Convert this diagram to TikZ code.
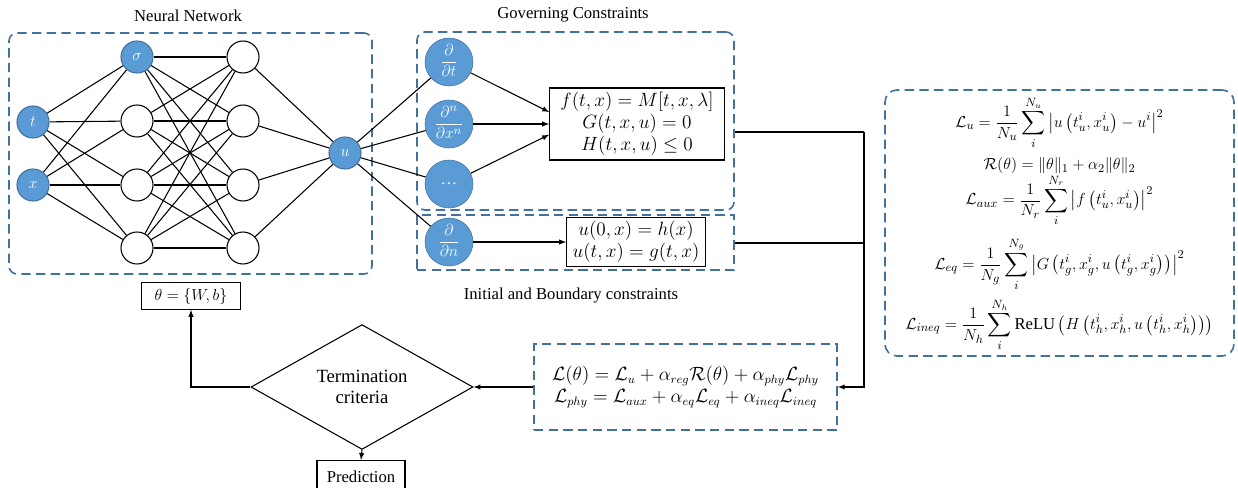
\documentclass[tikz,border=0pt]{standalone}
\usepackage{amsmath,amssymb}
\usepackage{fontspec}
\setmainfont{Liberation Serif}
\usetikzlibrary{shapes.geometric}

\definecolor{nnblue}{HTML}{5B9BD5}
\definecolor{nnedge}{HTML}{41719C}
\definecolor{boxblue}{HTML}{41719C}
\newcommand{\pdop}[2]{\raisebox{-3pt}[0pt][0pt]{$\dfrac{#1}{#2}$}}

\begin{document}
\begin{tikzpicture}[x=0.75pt,y=-0.75pt,
    every node/.style={font=\fontsize{12.5}{15}\selectfont},
    neuron/.style={circle,draw=black,line width=0.8pt,minimum size=24pt,inner sep=0pt},
    active/.style={neuron,fill=nnblue,draw=nnedge,text=white},
    opnode/.style={circle,fill=nnblue,draw=nnedge,text=white,minimum size=36pt,inner sep=0pt},
    eqbox/.style={draw,line width=0.8pt,align=center,inner sep=2pt},
    mathfont/.style={font=\fontsize{14}{16.5}\selectfont},
    dashbox/.style={draw=boxblue,line width=1.2pt,dash pattern=on 7pt off 4pt,inner sep=0pt},
    link/.style={line width=0.8pt},
    flow/.style={line width=0.8pt,-latex}]
    \useasboundingbox (0,0) rectangle (1238,487);

    % Dashed areas
    \node[dashbox,rounded corners=6pt,minimum width=272.25pt,minimum height=180.75pt] (nnarea) at (190.5,153.5) {};
    \node[dashbox,rounded corners=6pt,minimum width=237.75pt,minimum height=133.5pt] (govarea) at (575.5,121) {};
    \node[dashbox,minimum width=237.75pt,minimum height=41.25pt] (icarea) at (575.5,242.5) {};
    \node[dashbox,rounded corners=9pt,minimum width=261.75pt,minimum height=199.5pt] (lossarea) at (1059.5,223) {};

    % Titles
    \node (nntitle) at (188,16) {Neural Network};
    \node (govtitle) at (573,15) {Governing Constraints};
    \node (ictitle) at (571,296) {Initial and Boundary constraints};

    % Neural network
    \node[active] (t) at (33,122) {$t$};
    \node[active] (x) at (33,185) {$x$};
    \node[active] (h1) at (137,57) {$\sigma$};
    \node[neuron] (h2) at (137,121) {};
    \node[neuron] (h3) at (137,185) {};
    \node[neuron] (h4) at (137,248) {};
    \node[neuron] (g1) at (243,57) {};
    \node[neuron] (g2) at (243,121) {};
    \node[neuron] (g3) at (243,185) {};
    \node[neuron] (g4) at (243,248) {};
    \node[active] (u) at (345,153) {$u$};
    \foreach \i in {t,x}
        \foreach \j in {1,...,4}
            \draw[link] (\i) -- (h\j);
    \foreach \i in {1,...,4}
        \foreach \j in {1,...,4}
            \draw[link] (h\i) -- (g\j);
    \foreach \j in {1,...,4}
        \draw[link] (g\j) -- (u);

    % Differential operators
    \node[opnode] (dt) at (449,62) {\pdop{\partial}{\partial t}};
    \node[opnode] (dx) at (449,124) {\pdop{\partial^n}{\partial x^n}};
    \node[opnode] (dots) at (449,184) {\dots};
    \node[opnode] (dn) at (449,242) {\pdop{\partial}{\partial n}};
    \foreach \k in {dt,dx,dots,dn}
        \draw[link] (u) -- (\k);

    % Constraint equations
    \node[eqbox,mathfont,minimum width=131pt,minimum height=54pt] (gov) at (637,124)
        {$f(t,x) = M[t,x,\lambda]$\\ $G(t,x,u) = 0$\\ $H(t,x,u) \le 0$};
    \node[eqbox,mathfont,minimum width=104pt,minimum height=37pt] (init) at (636,242)
        {$u(0,x) = h(x)$\\ $u(t,x) = g(t,x)$};
    \draw[flow] (dt) -- ([yshift=9pt]gov.west);
    \draw[flow] (dx) -- (gov.west);
    \draw[flow] (dots) -- ([yshift=-8pt]gov.west);
    \draw[flow] (dn) -- (init.west);

    % Loss terms
    \node (losseq) at (1059.5,224) {$\begin{gathered}
        \mathcal{L}_u = \dfrac{1}{N_u}\sum\limits_{i}^{N_u}\left|u\left(t_u^i,x_u^i\right)-u^i\right|^2\\[1pt]
        \mathcal{R}(\theta) = \|\theta\|_1+\alpha_2\|\theta\|_2\\[-5pt]
        \mathcal{L}_{aux} = \dfrac{1}{N_r}\sum\limits_{i}^{N_r}\left|f\left(t_u^i,x_u^i\right)\right|^2\\[4pt]
        \mathcal{L}_{eq} = \dfrac{1}{N_g}\sum\limits_{i}^{N_g}\left|G\left(t_g^i,x_g^i,u\left(t_g^i,x_g^i\right)\right)\right|^2\\[2pt]
        \mathcal{L}_{ineq} = \dfrac{1}{N_h}\sum\limits_{i}^{N_h}\mathrm{ReLU}\left(H\left(t_h^i,x_h^i,u\left(t_h^i,x_h^i\right)\right)\right)
        \end{gathered}$};

    % Total loss
    \node[dashbox,font=\fontsize{13.5}{16}\selectfont,minimum width=227.25pt,minimum height=64.5pt,align=center] (loss) at (685.5,387)
        {$\mathcal{L}(\theta) = \mathcal{L}_u + \alpha_{reg}\mathcal{R}(\theta) + \alpha_{phy}\mathcal{L}_{phy}$\\
         $\mathcal{L}_{phy} = \mathcal{L}_{aux} + \alpha_{eq}\mathcal{L}_{eq} + \alpha_{ineq}\mathcal{L}_{ineq}$};
    \coordinate (j1) at (864,132);
    \coordinate (j2) at (864,243);
    \coordinate (j3) at (864,387);
    \draw[link] (govarea.east |- j1) -- (j1);
    \draw[link] (icarea.east |- j2) -- (j2);
    \draw[flow] (j1) -- (j3) -- (loss.east);

    % Training loop
    \node[diamond,draw,line width=0.8pt,minimum width=166.5pt,minimum height=62pt,inner sep=0pt,
        align=center,font=\fontsize{14}{16}\selectfont] (term) at (362,387) {Termination\\criteria};
    \node[eqbox,minimum width=74pt,minimum height=20pt] (theta) at (191,296) {$\theta = \{W,b\}$};
    \node[eqbox,minimum width=66pt,minimum height=24pt,anchor=north] (pred) at (361,460) {Prediction};
    \draw[flow] (loss.west) -- (term.east);
    \draw[flow] (term.west) -| (theta.south);
    \draw[flow] (term.south) -- (pred.north);
\end{tikzpicture}
\end{document}
